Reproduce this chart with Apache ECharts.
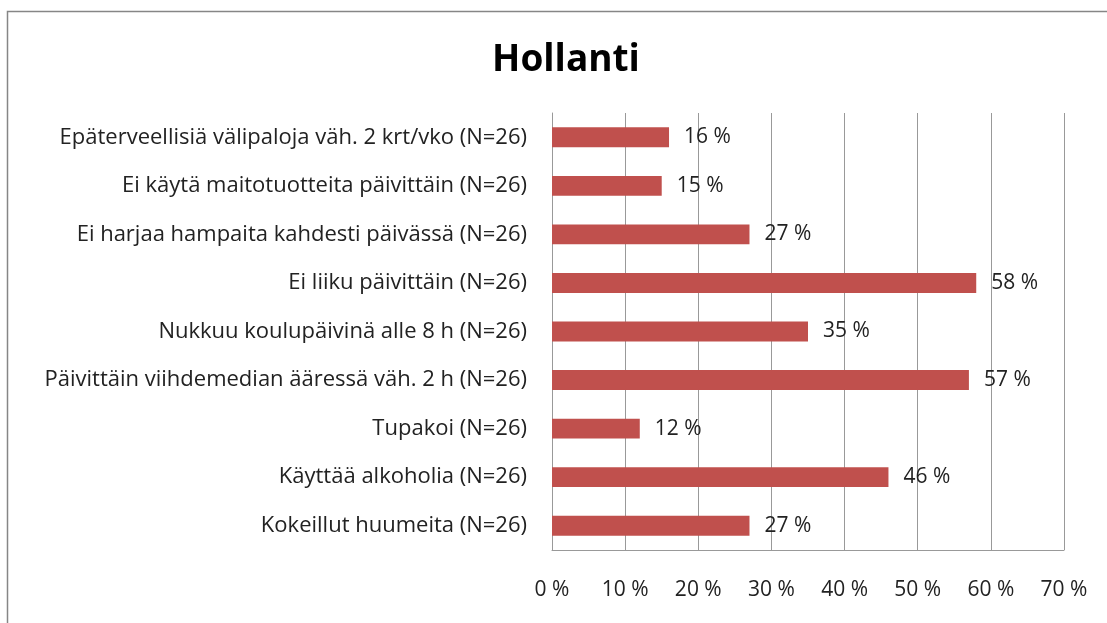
<!DOCTYPE html>
<html>
<head>
<meta charset="utf-8">
<script src="https://cdn.jsdelivr.net/npm/echarts@6/dist/echarts.min.js"></script>
<style>
  html, body { margin: 0; padding: 0; background: #fff; }
  #chart { width: 1107px; height: 623px; }
</style>
</head>
<body>
<div id="chart"></div>
<script>
// Categories from top to bottom
const categories = [
  'Epäterveellisiä välipaloja väh. 2 krt/vko (N=26)',
  'Ei käytä maitotuotteita päivittäin (N=26)',
  'Ei harjaa hampaita kahdesti päivässä (N=26)',
  'Ei liiku päivittäin (N=26)',
  'Nukkuu koulupäivinä alle 8 h (N=26)',
  'Päivittäin viihdemedian ääressä väh. 2 h (N=26)',
  'Tupakoi (N=26)',
  'Käyttää alkoholia (N=26)',
  'Kokeillut huumeita (N=26)'
];
// Share of respondents, percent
const values = [16, 15, 27, 58, 35, 57, 12, 46, 27];
const titleText = 'Hollanti';

const font = '"Open Sans", sans-serif';

const chart = echarts.init(document.getElementById('chart'), null, { renderer: 'canvas' });
chart.setOption({
  animation: false,
  backgroundColor: '#fff',
  title: {
    text: titleText,
    left: 561,
    top: 37,
    textAlign: 'center',
    textStyle: { fontFamily: font, fontSize: 37, fontWeight: 'bold', color: '#000' }
  },
  graphic: [{
    type: 'rect',
    shape: { x: 7.5, y: 11.5, width: 1200, height: 700 },
    style: { fill: 'none', stroke: '#868686', lineWidth: 1.5 },
    silent: true
  }],
  grid: { left: 552, right: 43, top: 113, bottom: 73 },
  xAxis: {
    type: 'value',
    min: 0,
    max: 70,
    interval: 10,
    axisLine: { show: true, lineStyle: { color: '#999', width: 1 } },
    axisTick: { show: false },
    splitLine: { show: true, lineStyle: { color: '#999', width: 1 } },
    axisLabel: {
      formatter: v => v + ' %',
      fontFamily: font, fontSize: 21, color: '#222', margin: 30
    }
  },
  yAxis: {
    type: 'category',
    inverse: true,
    data: categories,
    axisLine: { show: true, lineStyle: { color: '#999', width: 1 } },
    axisTick: { show: false },
    axisLabel: { fontFamily: font, fontSize: 22, color: '#222', margin: 25 }
  },
  series: [{
    type: 'bar',
    data: values,
    barWidth: '41%',
    itemStyle: { color: '#C0504D' },
    label: {
      show: true,
      position: 'right',
      distance: 15,
      formatter: p => p.value + ' %',
      fontFamily: font, fontSize: 21, color: '#222'
    }
  }]
});
</script>
</body>
</html>
